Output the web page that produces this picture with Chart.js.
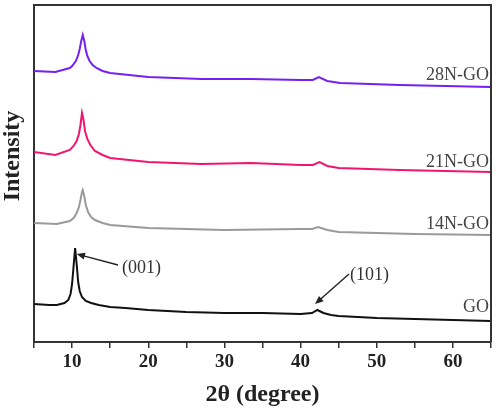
<!DOCTYPE html>
<html>
<head>
<meta charset="utf-8">
<script src="https://cdn.jsdelivr.net/npm/chart.js@4"></script>
<style>
  body { margin: 0; background: #fff; }
  #wrap { width: 502px; height: 411px; position: relative; }
</style>
</head>
<body>
<div id="wrap"><canvas id="xrd"></canvas></div>
<script>
// 2theta positions (degree) and intensity (stacked, arbitrary units)
const goTheta = [5, 7, 8, 9, 9.5, 9.8, 10.0, 10.2, 10.4, 10.6, 10.8, 11.0, 11.3, 11.8, 12.5, 13.5, 15, 17, 20, 25, 30, 35, 40, 41.5, 42.2, 43, 44, 45, 50, 55, 60, 65];
const goInt   = [38, 37, 37, 39, 42, 48, 58, 76, 94, 78, 60, 51, 45, 41, 39, 37, 35, 34, 32, 30, 29, 29, 28, 29, 32, 29, 27, 26, 24, 23, 22, 21];

const n14Theta = [5, 8, 9.7, 10.2, 10.6, 10.9, 11.1, 11.3, 11.4, 11.6, 11.8, 12.1, 12.5, 13, 14, 15, 20, 25, 30, 40, 41.5, 42.3, 43.5, 45, 50, 55, 65];
const n14Int   = [119, 118, 121, 124, 129, 135, 142, 150, 152, 146, 137, 130, 125, 122, 119, 117, 114, 113, 112, 113, 113, 115, 112, 110, 109, 108, 107];

const n21Theta = [5, 7.8, 9.7, 10.2, 10.6, 10.9, 11.1, 11.3, 11.5, 11.7, 12.0, 12.4, 13, 14, 15, 20, 27, 33.5, 40, 41.6, 42.5, 43.5, 45, 53, 65];
const n21Int   = [190, 187, 192, 196, 201, 208, 217, 229, 222, 211, 203, 197, 191, 187, 184, 180, 178, 179, 177, 177, 180, 176, 174, 172, 170];

const n28Theta = [5, 7.8, 9.7, 10.0, 10.5, 10.8, 11.0, 11.2, 11.4, 11.6, 11.8, 12.0, 12.3, 12.7, 13.2, 14, 15, 20, 27, 33.5, 40, 41.6, 42.4, 43.5, 45.2, 53, 65];
const n28Int   = [271, 270, 274, 276, 281, 287, 293, 301, 307, 301, 292, 286, 281, 277, 274, 271, 269, 265, 263, 263, 262, 262, 265, 261, 259, 257, 255];

const xTicks = [10, 20, 30, 40, 50, 60];
const seriesNames = ['GO', '14N-GO', '21N-GO', '28N-GO'];
const seriesColors = ['#111111', '#9a9a9a', '#f0166f', '#7420f2'];

function toPoints(xs, ys) {
    return xs.map((x, i) => ({ x: x, y: ys[i] }));
}

const serif = '"Liberation Serif", "Times New Roman", serif';

// frame, curve labels, peak arrows, y title
const decorPlugin = {
    id: 'decor',
    afterDraw(chart) {
        const ctx = chart.ctx;
        const a = chart.chartArea;
        const xs = chart.scales.x, ys = chart.scales.y;
        ctx.save();
        // top and right frame
        ctx.strokeStyle = '#333';
        ctx.lineWidth = 2;
        ctx.beginPath();
        ctx.moveTo(a.left, a.top);
        ctx.lineTo(a.right, a.top);
        ctx.lineTo(a.right, a.bottom);
        ctx.stroke();

        // series labels at the right end
        ctx.fillStyle = '#444';
        ctx.font = '18px ' + serif;
        ctx.textAlign = 'right';
        ctx.textBaseline = 'alphabetic';
        const labelBase = [312, 229, 167, 80];
        seriesNames.forEach((name, i) => {
            ctx.fillText(name, a.right - 2, labelBase[i]);
        });

        // peak annotations
        ctx.fillStyle = '#333';
        ctx.font = '18px ' + serif;
        ctx.textAlign = 'left';
        ctx.fillText('(001)', 122, 273);
        ctx.fillText('(101)', 350, 280);
        drawArrow(ctx, 118, 265, xs.getPixelForValue(10.6), ys.getPixelForValue(88));
        drawArrow(ctx, 349, 274, xs.getPixelForValue(41.9), ys.getPixelForValue(38));

        // y title
        ctx.fillStyle = '#222';
        ctx.font = 'bold 24px ' + serif;
        ctx.textAlign = 'center';
        ctx.textBaseline = 'middle';
        ctx.translate(13, 156);
        ctx.rotate(-Math.PI / 2);
        ctx.fillText('Intensity', 0, 0);
        ctx.restore();
    }
};

function drawArrow(ctx, x1, y1, x2, y2) {
    const ang = Math.atan2(y2 - y1, x2 - x1);
    const len = 9;
    ctx.strokeStyle = '#222';
    ctx.lineWidth = 1.4;
    ctx.beginPath();
    ctx.moveTo(x1, y1);
    ctx.lineTo(x2 - Math.cos(ang) * len * 0.8, y2 - Math.sin(ang) * len * 0.8);
    ctx.stroke();
    ctx.fillStyle = '#222';
    ctx.beginPath();
    ctx.moveTo(x2, y2);
    ctx.lineTo(x2 - len * Math.cos(ang - 0.4), y2 - len * Math.sin(ang - 0.4));
    ctx.lineTo(x2 - len * Math.cos(ang + 0.4), y2 - len * Math.sin(ang + 0.4));
    ctx.closePath();
    ctx.fill();
}

const ctx = document.getElementById('xrd').getContext('2d');
const chart = new Chart(ctx, {
    type: 'line',
    data: {
        datasets: [
            { label: 'GO', data: toPoints(goTheta, goInt) },
            { label: '14N-GO', data: toPoints(n14Theta, n14Int) },
            { label: '21N-GO', data: toPoints(n21Theta, n21Int) },
            { label: '28N-GO', data: toPoints(n28Theta, n28Int) }
        ].map((d, i) => Object.assign(d, {
            borderColor: seriesColors[i],
            borderWidth: 2,
            pointRadius: 0,
            tension: 0,
            fill: false
        }))
    },
    options: {
        responsive: true,
        maintainAspectRatio: false,
        animation: false,
        layout: { padding: { top: 5, right: 11, left: 0, bottom: 0 } },
        plugins: {
            legend: { display: false },
            tooltip: { enabled: false }
        },
        scales: {
            x: {
                type: 'linear',
                min: 5,
                max: 65,
                afterFit: (s) => { s.height = 69; },
                ticks: {
                    stepSize: 5,
                    autoSkip: false,
                    maxRotation: 0,
                    padding: 3,
                    color: '#222',
                    font: { family: serif, size: 19, weight: 'bold' },
                    callback: (v) => xTicks.includes(v) ? String(v) : ''
                },
                grid: {
                    drawOnChartArea: false,
                    drawTicks: true,
                    tickLength: 6,
                    color: '#333',
                    lineWidth: 1.5
                },
                border: { display: true, color: '#333', width: 2 },
                title: {
                    display: true,
                    text: '2\u03b8 (degree)',
                    color: '#222',
                    font: { family: serif, size: 24, weight: 'bold' },
                    padding: { top: 0, bottom: 2 }
                }
            },
            y: {
                min: 0,
                max: 337,
                afterFit: (s) => { s.width = 34; },
                ticks: { display: false },
                grid: { display: false },
                border: { display: true, color: '#333', width: 2 }
            }
        }
    },
    plugins: [decorPlugin]
});
</script>
</body>
</html>
